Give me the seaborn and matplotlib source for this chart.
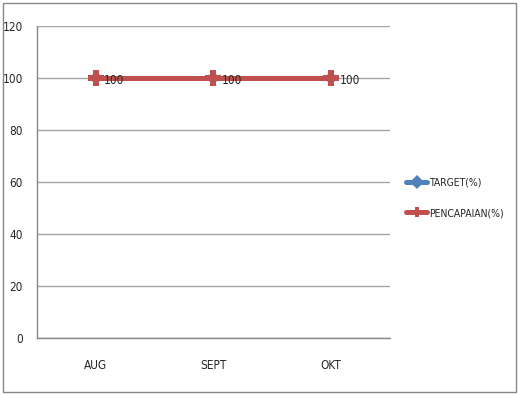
import matplotlib
matplotlib.use("Agg")
import matplotlib.pyplot as plt
import seaborn as sns
import pandas as pd
from matplotlib.patches import Rectangle

bulan = ["AUG", "SEPT", "OKT"]
target = [100, 100, 100]
pencapaian = [100, 100, 100]
seri = ["TARGET(%)", "PENCAPAIAN(%)"]
yticks = [0, 20, 40, 60, 80, 100, 120]

df = pd.DataFrame({
    "bulan": bulan * 2,
    "nilai": target + pencapaian,
    "seri": [seri[0]] * 3 + [seri[1]] * 3,
})

sns.set_style("white")
plt.rcParams["font.family"] = ["DejaVu Sans"]
plt.rcParams["font.stretch"] = "condensed"

fig = plt.figure(figsize=(5.19, 3.95), dpi=100)
ax = fig.add_axes([0.0713, 0.1443, 0.6801, 0.7899])

sns.lineplot(data=df, x="bulan", y="nilai", hue="seri", style="seri",
             palette=["#4F81BD", "#C0504D"], markers=["D", "P"], dashes=False,
             linewidth=3.6, markersize=7, markeredgewidth=0, ax=ax)
# marker merah sedikit lebih besar, menutupi marker biru
ax.lines[1].set_markersize(12)

for i, v in enumerate(pencapaian):
    ax.annotate(str(v), (i, v), xytext=(6, -2), textcoords="offset points",
                fontsize=8.5, va="center", ha="left")

ax.set_xlim(-0.5, 2.5)
ax.set_ylim(0, 120)
ax.set_yticks(yticks)
ax.set_xticks(range(3))
ax.set_xticklabels(bulan)
ax.set_xticks([-0.5, 0.5, 1.5, 2.5], minor=True)
ax.tick_params(axis="x", which="major", length=0, pad=15, labelsize=8.5)
ax.tick_params(axis="x", which="minor", length=5, color="#878787", direction="out")
ax.tick_params(axis="y", length=5, color="#878787", direction="out", labelsize=8.5, pad=5)
ax.yaxis.grid(True, color="#a6a6a6", linewidth=1)
ax.set_xlabel("")
ax.set_ylabel("")
for s in ["top", "right"]:
    ax.spines[s].set_visible(False)
for s in ["left", "bottom"]:
    ax.spines[s].set_color("#878787")
    ax.spines[s].set_linewidth(1)

ax.legend(loc="center left", bbox_to_anchor=(1.02, 0.45), frameon=False,
          fontsize=7.5, handlelength=2.0, handletextpad=0.2, labelspacing=2.0)

fig.patches.append(Rectangle((0.006, 0.008), 0.988, 0.984, transform=fig.transFigure,
                             fill=False, edgecolor="#878787", linewidth=1))

fig.savefig("out.png", dpi=100)
